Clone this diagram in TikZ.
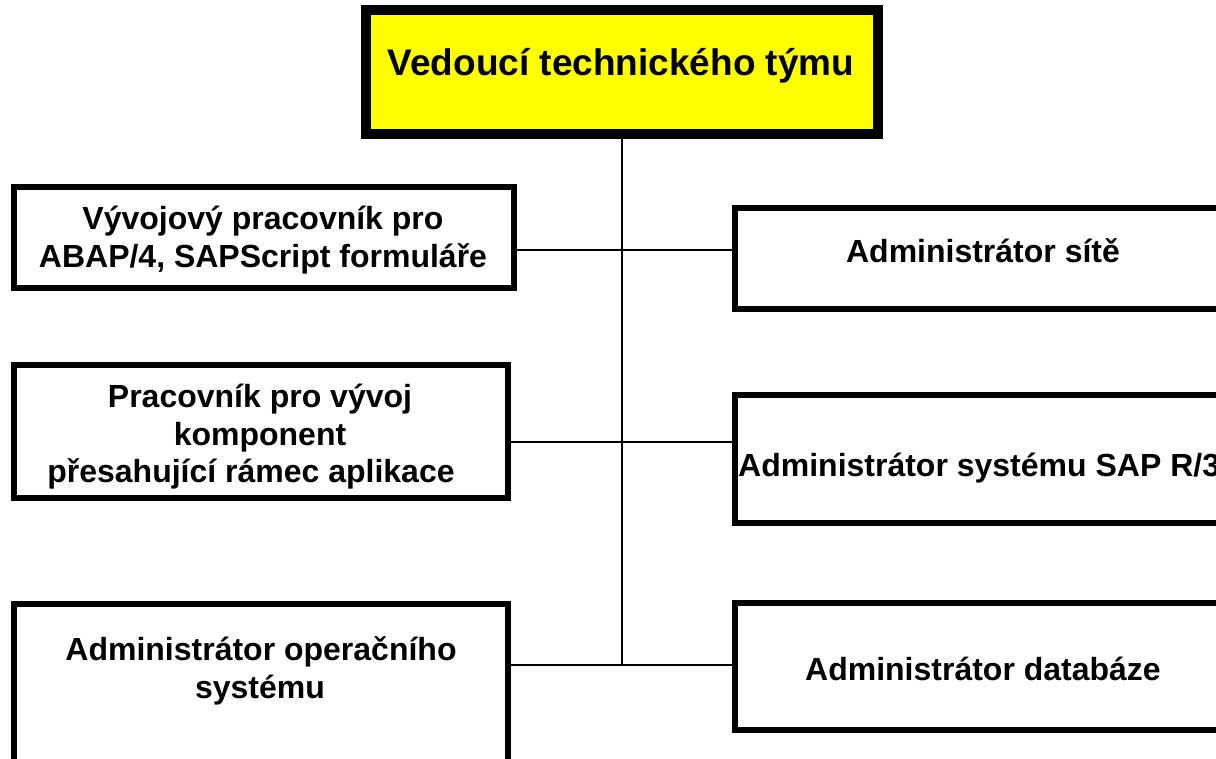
\documentclass[tikz,border=0pt]{standalone}
\usepackage{fontspec}
\setmainfont{Liberation Sans}
\definecolor{headyellow}{RGB}{255,255,0}
\begin{document}
\begin{tikzpicture}[x=1pt,y=-1pt,
  box/.style={draw=black, line width=6pt, fill=white, inner sep=0pt, outer sep=0pt},
  headbox/.style={draw=black, line width=10pt, fill=headyellow, inner sep=0pt, outer sep=0pt},
  lbl/.style={font=\fontsize{32}{37}\selectfont\bfseries, anchor=base, inner sep=0pt},
  headlbl/.style={font=\fontsize{37}{42}\selectfont\bfseries, anchor=base, inner sep=0pt},
  conn/.style={draw=black, line width=2.5pt}]
\useasboundingbox (0,0) rectangle (1216,758);
\clip (0,0) rectangle (1216,758);
\fill[white] (0,0) rectangle (1216,758);

% connectors (drawn first, boxes on top)
\coordinate (j1) at (622,250);
\coordinate (j2) at (622,442);
\coordinate (j3) at (622,665);

% boxes
\node[headbox, minimum width=512pt, minimum height=124pt] (top) at (622,72) {};
\node[box, minimum width=500pt, minimum height=101pt] (l1) at (264,237.5) {};
\node[box, minimum width=494pt, minimum height=133pt] (l2) at (261,431) {};
\node[box, minimum width=494pt, minimum height=172pt] (l3) at (261,690) {};
\node[box, minimum width=505pt, minimum height=100.5pt] (r1) at (987,258.25) {};
\node[box, minimum width=505pt, minimum height=128.5pt] (r2) at (987,458.75) {};
\node[box, minimum width=505pt, minimum height=127pt] (r3) at (987,666.5) {};

\draw[conn] (top.south) -- (j3);
\draw[conn] (l1.east |- j1) -- (r1.west |- j1);
\draw[conn] (l2.east |- j2) -- (r2.west |- j2);
\draw[conn] (l3.east |- j3) -- (r3.west |- j3);

% labels
\node[headlbl] (tt) at (621,75) {Vedoucí technického týmu};
\node[lbl] (t1a) at (263,229) {Vývojový pracovník pro};
\node[lbl] (t1b) at (263,267) {ABAP/4, SAPScript formuláře};
\node[lbl] (t2a) at (260,407) {Pracovník pro vývoj};
\node[lbl] (t2b) at (260,445) {komponent};
\node[lbl] (t2c) at (251,482) {přesahující rámec aplikace};
\node[lbl] (t3a) at (261,660) {Administrátor operačního};
\node[lbl] (t3b) at (260,698) {systému};
\node[lbl] (t4) at (983,262) {Administrátor sítě};
\node[lbl, anchor=base west] (t5) at (738,476) {Administrátor systému SAP R/3};
\node[lbl] (t6) at (983,680) {Administrátor databáze};
\end{tikzpicture}
\end{document}
